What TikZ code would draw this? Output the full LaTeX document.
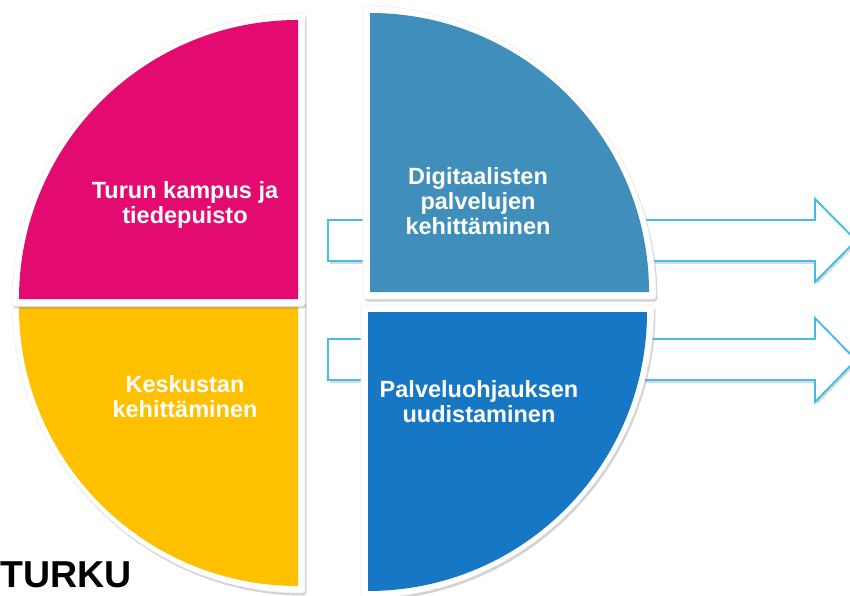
\documentclass[tikz,border=0pt]{standalone}
\usepackage{fontspec}
\setmainfont{Liberation Sans}
\usetikzlibrary{shadows}

\definecolor{tkpink}{HTML}{E30B6F}
\definecolor{tkyellow}{HTML}{FFC000}
\definecolor{tkteal}{HTML}{3F8EBB}
\definecolor{tkblue}{HTML}{1677C5}
\definecolor{tkline}{HTML}{45BDEA}

\tikzset{
  tile/.style={fill=white, draw=black!7, line width=.6pt, rounded corners=3pt,
    drop shadow={shadow xshift=1.5pt, shadow yshift=-2.5pt, opacity=.35}},
  flow/.style={draw=tkline, line width=1.9pt, fill=white,
    drop shadow={shadow xshift=1.5pt, shadow yshift=-3pt, opacity=.3}},
  tiletext/.style={text=white, align=center,
    font=\bfseries\fontsize{23.5}{25}\selectfont},
}

\begin{document}
\begin{tikzpicture}[x=1pt, y=1pt]
\useasboundingbox (0,0) rectangle (850,595);

% arrows behind the tiles
\draw[flow] (328,375) -- (815,375) -- (815,396) -- (856,354.5)
  -- (815,313) -- (815,334) -- (328,334) -- cycle;
\draw[flow] (328,256) -- (815,256) -- (815,277) -- (856,235)
  -- (815,193) -- (815,215) -- (328,215) -- cycle;

% quarter tiles
\foreach \cx/\cy/\a/\col in {298/288/180/tkyellow, 298/296/90/tkpink,
                            368/283/270/tkblue, 370/303/0/tkteal}{
  \path[tile] ([shift={(\a+225:9.9)}]\cx,\cy) -- ++(\a:293)
    arc[start angle=\a, delta angle=90, radius=293] -- cycle;
  \fill[\col] (\cx,\cy) -- ++(\a:279)
    arc[start angle=\a, delta angle=90, radius=279] -- cycle;
}

\node[tiletext] (kampus) at (185,390) {Turun kampus ja\\tiedepuisto};
\node[tiletext] (keskusta) at (185,198) {Keskustan\\kehittäminen};
\node[tiletext] (digi) at (478,394) {Digitaalisten\\palvelujen\\kehittäminen};
\node[tiletext] (ohjaus) at (479,193) {Palveluohjauksen\\uudistaminen};

\node[anchor=base west, inner sep=0pt, font=\bfseries\fontsize{37.5}{37}\selectfont]
  (logo) at (0,8) {TURKU};
\end{tikzpicture}
\end{document}
